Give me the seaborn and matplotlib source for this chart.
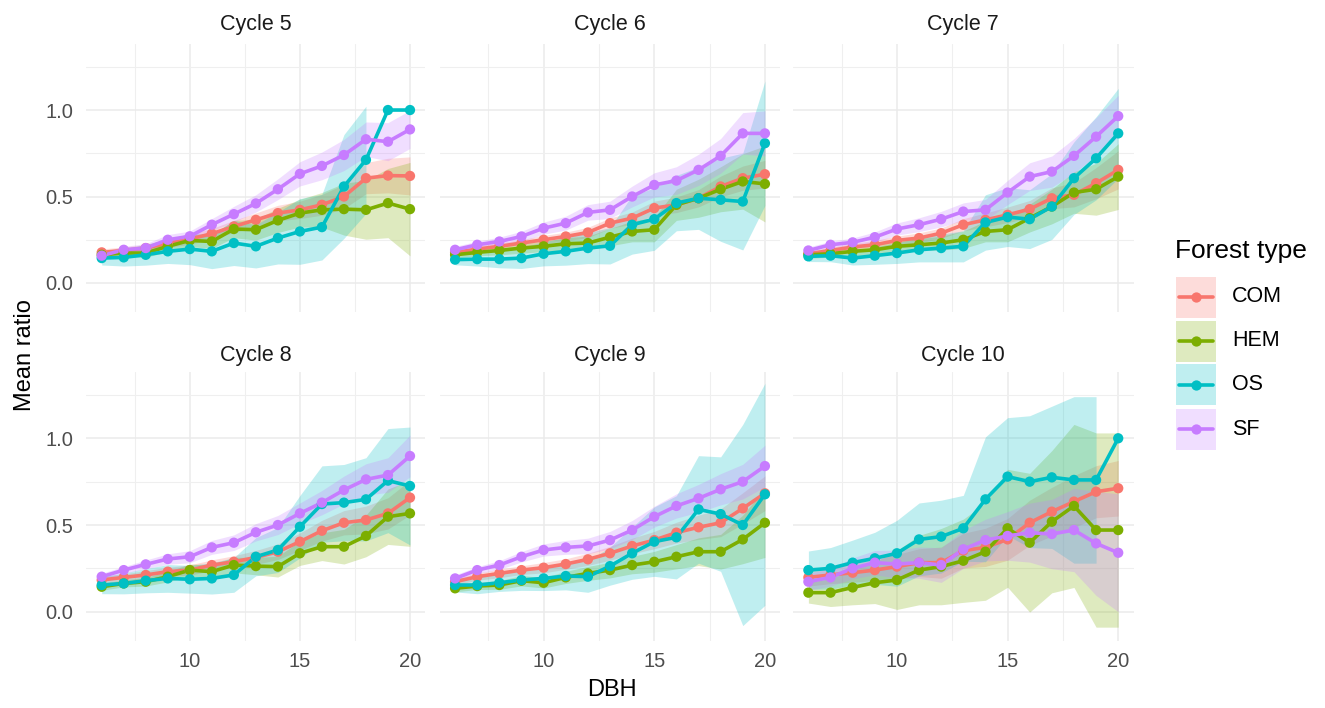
import numpy as np
import pandas as pd
import matplotlib
matplotlib.use("Agg")
import matplotlib.pyplot as plt
import seaborn as sns
from matplotlib.patches import Rectangle
from matplotlib.lines import Line2D

nan = float("nan")

# ---------------- data ----------------
dbh = list(range(6, 21))
forest_types = ["COM", "HEM", "OS", "SF"]
cycles = ["Cycle 5", "Cycle 6", "Cycle 7", "Cycle 8", "Cycle 9", "Cycle 10"]
colors = ["#F8766D", "#7CAE00", "#00BFC4", "#C77CFF"]

# Cycle 5
c5_com = [0.177, 0.188, 0.202, 0.230, 0.254, 0.285, 0.327, 0.365, 0.404, 0.423, 0.452, 0.500, 0.606, 0.621, 0.619]
c5_hem = [0.163, 0.173, 0.173, 0.212, 0.246, 0.240, 0.312, 0.308, 0.362, 0.404, 0.423, 0.427, 0.423, 0.462, 0.427]
c5_os = [0.144, 0.148, 0.163, 0.183, 0.196, 0.183, 0.231, 0.212, 0.260, 0.298, 0.323, 0.558, 0.712, 1.000, 1.000]
c5_sf = [0.158, 0.192, 0.202, 0.250, 0.270, 0.337, 0.398, 0.460, 0.542, 0.631, 0.677, 0.740, 0.831, 0.817, 0.888]
c5_com_err = [0.02, 0.02, 0.02, 0.025, 0.03, 0.03, 0.035, 0.04, 0.045, 0.05, 0.06, 0.07, 0.09, 0.10, 0.11]
c5_hem_err = [0.02, 0.02, 0.025, 0.03, 0.035, 0.04, 0.05, 0.06, 0.07, 0.08, 0.10, 0.15, 0.17, 0.20, 0.27]
c5_os_err = [0.04, 0.05, 0.06, 0.07, 0.09, 0.10, 0.13, 0.125, 0.15, 0.19, 0.19, 0.30, 0.31, nan, nan]
c5_sf_err = [0.02, 0.02, 0.025, 0.03, 0.03, 0.035, 0.045, 0.05, 0.06, 0.07, 0.08, 0.09, 0.10, 0.11, 0.11]

# Cycle 6
c6_com = [0.177, 0.196, 0.212, 0.231, 0.250, 0.269, 0.292, 0.346, 0.375, 0.433, 0.452, 0.490, 0.558, 0.606, 0.629]
c6_hem = [0.163, 0.177, 0.188, 0.202, 0.212, 0.227, 0.231, 0.265, 0.298, 0.308, 0.452, 0.490, 0.542, 0.587, 0.573]
c6_os = [0.135, 0.138, 0.138, 0.144, 0.169, 0.183, 0.202, 0.215, 0.337, 0.369, 0.462, 0.490, 0.481, 0.471, 0.808]
c6_sf = [0.192, 0.221, 0.240, 0.269, 0.317, 0.346, 0.408, 0.423, 0.500, 0.567, 0.592, 0.654, 0.735, 0.865, 0.865]
c6_com_err = [0.015, 0.02, 0.02, 0.02, 0.025, 0.025, 0.03, 0.03, 0.035, 0.04, 0.045, 0.05, 0.06, 0.07, 0.08]
c6_hem_err = [0.02, 0.02, 0.025, 0.03, 0.03, 0.035, 0.04, 0.05, 0.06, 0.07, 0.09, 0.11, 0.13, 0.16, 0.22]
c6_os_err = [0.03, 0.04, 0.05, 0.06, 0.07, 0.08, 0.09, 0.105, 0.17, 0.18, 0.16, 0.18, 0.24, 0.28, 0.36]
c6_sf_err = [0.02, 0.02, 0.025, 0.03, 0.035, 0.04, 0.045, 0.05, 0.06, 0.07, 0.08, 0.09, 0.10, 0.12, 0.13]

# Cycle 7
c7_com = [0.169, 0.188, 0.208, 0.221, 0.246, 0.260, 0.288, 0.337, 0.365, 0.394, 0.427, 0.490, 0.510, 0.577, 0.654]
c7_hem = [0.163, 0.169, 0.183, 0.192, 0.212, 0.221, 0.231, 0.250, 0.298, 0.308, 0.375, 0.442, 0.523, 0.542, 0.615]
c7_os = [0.154, 0.158, 0.144, 0.158, 0.173, 0.192, 0.202, 0.212, 0.350, 0.381, 0.369, 0.442, 0.606, 0.721, 0.865]
c7_sf = [0.188, 0.221, 0.235, 0.265, 0.312, 0.337, 0.369, 0.413, 0.423, 0.523, 0.615, 0.644, 0.735, 0.846, 0.965]
c7_com_err = [0.015, 0.02, 0.02, 0.025, 0.025, 0.03, 0.03, 0.035, 0.04, 0.045, 0.05, 0.06, 0.07, 0.09, 0.11]
c7_hem_err = [0.02, 0.02, 0.025, 0.03, 0.03, 0.035, 0.04, 0.05, 0.06, 0.07, 0.08, 0.10, 0.12, 0.15, 0.19]
c7_os_err = [0.03, 0.035, 0.04, 0.05, 0.06, 0.07, 0.08, 0.09, 0.16, 0.17, 0.17, 0.19, 0.21, 0.24, 0.26]
c7_sf_err = [0.02, 0.02, 0.025, 0.03, 0.035, 0.04, 0.045, 0.05, 0.06, 0.07, 0.08, 0.09, 0.10, 0.11, 0.12]

# Cycle 8
c8_com = [0.183, 0.198, 0.212, 0.231, 0.240, 0.269, 0.288, 0.313, 0.346, 0.404, 0.467, 0.513, 0.529, 0.567, 0.658]
c8_hem = [0.144, 0.163, 0.173, 0.202, 0.240, 0.231, 0.269, 0.263, 0.260, 0.337, 0.375, 0.375, 0.437, 0.548, 0.567]
c8_os = [0.154, 0.163, 0.179, 0.192, 0.187, 0.192, 0.212, 0.317, 0.356, 0.490, 0.621, 0.629, 0.648, 0.756, 0.725]
c8_sf = [0.202, 0.240, 0.273, 0.304, 0.317, 0.371, 0.398, 0.458, 0.500, 0.567, 0.629, 0.702, 0.763, 0.788, 0.898]
c8_com_err = [0.02, 0.02, 0.025, 0.025, 0.03, 0.03, 0.035, 0.04, 0.045, 0.05, 0.06, 0.07, 0.08, 0.09, 0.10]
c8_hem_err = [0.02, 0.02, 0.025, 0.03, 0.035, 0.04, 0.045, 0.05, 0.06, 0.07, 0.08, 0.10, 0.12, 0.16, 0.19]
c8_os_err = [0.05, 0.06, 0.07, 0.08, 0.08, 0.09, 0.10, 0.11, 0.13, 0.18, 0.22, 0.22, 0.24, 0.30, 0.34]
c8_sf_err = [0.02, 0.02, 0.025, 0.03, 0.035, 0.04, 0.045, 0.05, 0.055, 0.06, 0.07, 0.08, 0.09, 0.10, 0.12]

# Cycle 9
c9_com = [0.173, 0.202, 0.221, 0.240, 0.254, 0.275, 0.302, 0.337, 0.379, 0.413, 0.456, 0.487, 0.513, 0.596, 0.683]
c9_hem = [0.135, 0.148, 0.154, 0.179, 0.167, 0.198, 0.221, 0.240, 0.269, 0.288, 0.317, 0.346, 0.346, 0.417, 0.513]
c9_os = [0.154, 0.154, 0.167, 0.183, 0.192, 0.206, 0.202, 0.263, 0.337, 0.404, 0.429, 0.590, 0.563, 0.500, 0.677]
c9_sf = [0.192, 0.240, 0.269, 0.317, 0.356, 0.371, 0.379, 0.413, 0.471, 0.548, 0.610, 0.654, 0.706, 0.750, 0.840]
c9_com_err = [0.02, 0.02, 0.025, 0.025, 0.03, 0.03, 0.035, 0.04, 0.045, 0.05, 0.06, 0.07, 0.08, 0.09, 0.10]
c9_hem_err = [0.02, 0.02, 0.025, 0.03, 0.03, 0.035, 0.04, 0.045, 0.05, 0.06, 0.07, 0.08, 0.10, 0.14, 0.20]
c9_os_err = [0.04, 0.05, 0.05, 0.06, 0.07, 0.08, 0.09, 0.11, 0.15, 0.20, 0.24, 0.31, 0.33, 0.58, 0.64]
c9_sf_err = [0.02, 0.02, 0.025, 0.03, 0.035, 0.04, 0.045, 0.05, 0.055, 0.06, 0.07, 0.08, 0.09, 0.10, 0.12]

# Cycle 10
c10_com = [0.198, 0.212, 0.225, 0.240, 0.260, 0.283, 0.283, 0.352, 0.371, 0.417, 0.513, 0.577, 0.635, 0.692, 0.712]
c10_hem = [0.110, 0.110, 0.140, 0.167, 0.183, 0.240, 0.260, 0.294, 0.346, 0.481, 0.398, 0.519, 0.610, 0.471, 0.471]
c10_os = [0.240, 0.250, 0.283, 0.308, 0.337, 0.417, 0.433, 0.481, 0.648, 0.779, 0.750, 0.775, 0.760, 0.760, 1.000]
c10_sf = [0.173, 0.198, 0.250, 0.283, 0.275, 0.283, 0.269, 0.360, 0.413, 0.437, 0.456, 0.448, 0.471, 0.394, 0.340]
c10_com_err = [0.05, 0.05, 0.055, 0.06, 0.07, 0.08, 0.09, 0.10, 0.11, 0.12, 0.13, 0.14, 0.15, 0.15, 0.16]
c10_hem_err = [0.06, 0.08, 0.10, 0.12, 0.17, 0.20, 0.22, 0.24, 0.28, 0.34, 0.40, 0.41, 0.47, 0.56, 0.56]
c10_os_err = [0.11, 0.12, 0.13, 0.15, 0.19, 0.21, 0.21, 0.19, 0.36, 0.34, 0.38, 0.41, 0.48, 0.48, nan]
c10_sf_err = [0.05, 0.05, 0.06, 0.07, 0.08, 0.09, 0.10, 0.11, 0.12, 0.14, 0.17, 0.20, 0.24, 0.30, 0.34]

series = {
    "Cycle 5": {"COM": (c5_com, c5_com_err), "HEM": (c5_hem, c5_hem_err), "OS": (c5_os, c5_os_err), "SF": (c5_sf, c5_sf_err)},
    "Cycle 6": {"COM": (c6_com, c6_com_err), "HEM": (c6_hem, c6_hem_err), "OS": (c6_os, c6_os_err), "SF": (c6_sf, c6_sf_err)},
    "Cycle 7": {"COM": (c7_com, c7_com_err), "HEM": (c7_hem, c7_hem_err), "OS": (c7_os, c7_os_err), "SF": (c7_sf, c7_sf_err)},
    "Cycle 8": {"COM": (c8_com, c8_com_err), "HEM": (c8_hem, c8_hem_err), "OS": (c8_os, c8_os_err), "SF": (c8_sf, c8_sf_err)},
    "Cycle 9": {"COM": (c9_com, c9_com_err), "HEM": (c9_hem, c9_hem_err), "OS": (c9_os, c9_os_err), "SF": (c9_sf, c9_sf_err)},
    "Cycle 10": {"COM": (c10_com, c10_com_err), "HEM": (c10_hem, c10_hem_err), "OS": (c10_os, c10_os_err), "SF": (c10_sf, c10_sf_err)},
}

rows = []
for cyc in cycles:
    for ft in forest_types:
        m, e = series[cyc][ft]
        for d, mv, ev in zip(dbh, m, e):
            rows.append({"cycle": cyc, "type": ft, "DBH": d, "mean": mv, "err": ev})
df = pd.DataFrame(rows)
df["lo"] = df["mean"] - df["err"]
df["hi"] = df["mean"] + df["err"]

palette = dict(zip(forest_types, colors))

# ---------------- figure ----------------
sns.set_theme(style="white")
plt.rcParams["font.family"] = ["Liberation Sans", "DejaVu Sans"]

W, H = 1325, 708
fig = plt.figure(figsize=(W / 100, H / 100), dpi=100)
fig.patch.set_facecolor("white")

col_px = [(86.3, 425.4), (439.6, 780.4), (792.9, 1133.7)]
row_px = [(44.3, 312.4), (372.4, 641.2)]
strip_base = [30, 361]

tick_color = "#4D4D4D"
for idx, cyc in enumerate(cycles):
    r, c = divmod(idx, 3)
    x0, x1 = col_px[c]
    y0, y1 = row_px[r]
    ax = fig.add_axes([x0 / W, 1 - y1 / H, (x1 - x0) / W, (y1 - y0) / H])
    ax.set_facecolor("white")
    sub = df[df["cycle"] == cyc]

    for ft in forest_types:
        s = sub[sub["type"] == ft]
        ax.fill_between(s["DBH"], s["lo"], s["hi"], color=palette[ft], alpha=0.25,
                        linewidth=0, zorder=1)
    sns.lineplot(data=sub, x="DBH", y="mean", hue="type", hue_order=forest_types,
                 palette=palette, linewidth=2.6, legend=False, ax=ax,
                 errorbar=None, sort=True, zorder=3)
    sns.scatterplot(data=sub, x="DBH", y="mean", hue="type", hue_order=forest_types,
                    palette=palette, s=55, edgecolor="none", legend=False, ax=ax,
                    zorder=4)

    ax.set_xlim(5.3, 20.7)
    ax.set_ylim(-0.17, 1.38)
    ax.set_xticks([10, 15, 20])
    ax.set_xticks([7.5, 12.5, 17.5], minor=True)
    ax.set_yticks([0.0, 0.5, 1.0])
    ax.set_yticks([0.25, 0.75, 1.25], minor=True)
    ax.set_yticklabels(["0.0", "0.5", "1.0"])
    ax.grid(which="major", color="#EBEBEB", linewidth=1.1)
    ax.grid(which="minor", color="#EFEFEF", linewidth=0.8)
    ax.set_axisbelow(True)
    for sp in ax.spines.values():
        sp.set_visible(False)
    ax.tick_params(which="both", length=0, labelsize=14.5, labelcolor=tick_color)
    ax.tick_params(axis="y", pad=9.5)
    ax.tick_params(axis="x", pad=8)
    if c != 0:
        ax.tick_params(labelleft=False)
    if r != 1:
        ax.tick_params(labelbottom=False)
    ax.set_xlabel("")
    ax.set_ylabel("")

    fig.text(((x0 + x1) / 2) / W, 1 - strip_base[r] / H, cyc, ha="center",
             va="baseline", fontsize=15.5, color="#1A1A1A")

# axis titles
fig.text(612 / W, 1 - 690 / H, "DBH", ha="center", va="center", fontsize=17, color="black")
fig.text(25 / W, 1 - 355 / H, "Mean ratio", ha="center", va="center", rotation=90,
         fontsize=17, color="black")

# legend
fig.text(1175 / W, 1 - 258 / H, "Forest type", ha="left", va="baseline", fontsize=19,
         color="black")
for i, (ft, col) in enumerate(zip(forest_types, colors)):
    cy = 297 + 44 * i
    fig.patches.append(Rectangle((1176 / W, 1 - (cy + 20.5) / H), 40 / W, 41 / H,
                                 transform=fig.transFigure, facecolor=col, alpha=0.25,
                                 edgecolor="none"))
    fig.lines.append(Line2D([1179 / W, 1213 / W], [1 - cy / H, 1 - cy / H],
                            transform=fig.transFigure, color=col, linewidth=2.6))
    fig.lines.append(Line2D([1196 / W], [1 - cy / H], transform=fig.transFigure,
                            color=col, marker="o", markersize=7.4, markeredgewidth=0))
    fig.text(1232 / W, 1 - cy / H, ft, ha="left", va="center", fontsize=15.5,
             color="black")

fig.savefig("out.png", dpi=100, facecolor="white")
